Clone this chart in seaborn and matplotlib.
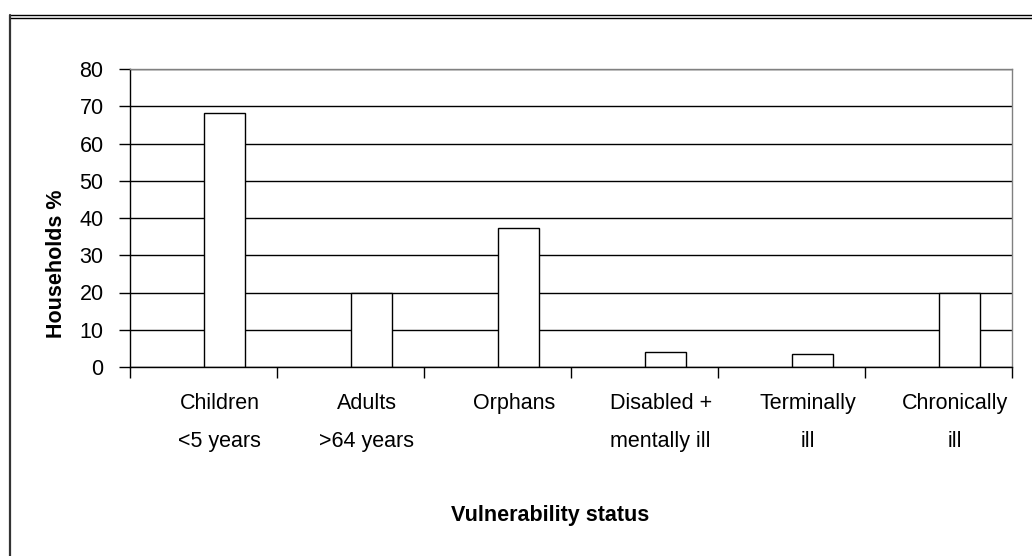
import numpy as np
import pandas as pd
import matplotlib
matplotlib.use("Agg")
import matplotlib.pyplot as plt
from matplotlib.lines import Line2D
import seaborn as sns

# Values
categories = ["Children\n<5 years", "Adults\n>64 years", "Orphans",
              "Disabled +\nmentally ill", "Terminally\nill", "Chronically\nill"]
households_pct = [68.3, 20.0, 37.2, 3.9, 3.4, 20.0]
y_ticks = [0, 10, 20, 30, 40, 50, 60, 70, 80]

# Excel-style chart: an empty first series pushes the bars to the right of each slot
df = pd.DataFrame({
    "status": categories * 2,
    "pct": [np.nan] * len(categories) + households_pct,
    "series": ["blank"] * len(categories) + ["value"] * len(categories),
})

sns.set_theme(style="white")
plt.rcParams["font.family"] = ["Liberation Sans", "DejaVu Sans"]

W, H = 1032, 556
fig = plt.figure(figsize=(W / 100, H / 100), dpi=100)
ax = fig.add_axes([130 / W, 1 - 367 / H, 882 / W, 298 / H])

sns.barplot(data=df, x="status", y="pct", hue="series", hue_order=["blank", "value"],
            order=categories, palette={"blank": "white", "value": "white"},
            edgecolor="black", linewidth=1, width=0.57, dodge=True,
            legend=False, ax=ax)

ax.set_xlim(-0.5, len(categories) - 0.5)
ax.set_ylim(0, 80)
ax.set_yticks(y_ticks)
ax.yaxis.grid(True, color="black", linewidth=1)
ax.set_axisbelow(True)

# category boundaries get the tick marks, labels sit under the bars
n = len(categories)
ax.set_xticks(np.arange(-0.5, n, 1.0), minor=True)
ax.set_xticks(np.arange(n) + 0.11)
ax.set_xticklabels(categories, fontsize=15.5, linespacing=2.05, va="top")
ax.tick_params(axis="x", which="major", length=0, pad=19)
ax.tick_params(axis="x", which="minor", length=8, width=1, color="black", direction="out",
               bottom=True)
ax.tick_params(axis="y", length=8, width=1, color="black", direction="out", left=True,
               labelsize=15.5, pad=11)
for lbl in ax.get_yticklabels() + ax.get_xticklabels():
    lbl.set_color("black")

ax.set_xlabel("")
ax.set_ylabel("")
for side in ["left", "bottom"]:
    ax.spines[side].set_color("black")
    ax.spines[side].set_linewidth(1)
for side in ["top", "right"]:
    ax.spines[side].set_visible(True)
    ax.spines[side].set_color("#808080")
    ax.spines[side].set_linewidth(1)

fig.text(57 / W, 1 - 264 / H, "Households %", rotation=90, ha="center", va="center",
         fontsize=15.5, fontweight="bold", color="black")
fig.text(550 / W, 1 - 515 / H, "Vulnerability status", ha="center", va="center",
         fontsize=15.5, fontweight="bold", color="black")

# outer chart frame (runs off the right and bottom edges of the image)
for yy in [15, 18]:
    fig.add_artist(Line2D([10 / W, 1], [1 - yy / H, 1 - yy / H], color="black", lw=1,
                          transform=fig.transFigure))
fig.add_artist(Line2D([10 / W, 10 / W], [1 - 15 / H, 0], color="#333333", lw=1.6,
                      transform=fig.transFigure))

fig.savefig("out.png", dpi=100, facecolor="white")
